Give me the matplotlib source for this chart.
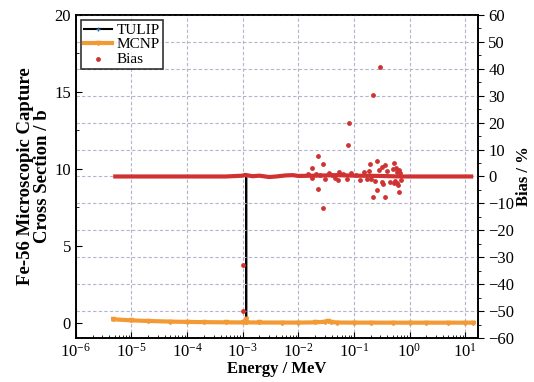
import matplotlib.pyplot as plt
from matplotlib.ticker import MultipleLocator, LogLocator, NullFormatter
import numpy as np

plt.rcParams['font.family'] = ['Liberation Serif', 'DejaVu Serif']
plt.rcParams['mathtext.fontset'] = 'stix'

# --- data ---
energy = [4.7e-6, 1e-5, 2e-5, 5e-5, 1e-4, 2e-4, 5e-4, 1e-3, 1.150e-3, 1.156e-3,
          1.162e-3, 2e-3, 5e-3, 1e-2, 2e-2, 3e-2, 3.4e-2, 3.8e-2, 5e-2, 0.1,
          0.2, 0.5, 1.0, 2.0, 5.0, 10.0, 14.0]
tulip_xs = [0.22, 0.15, 0.11, 0.07, 0.05, 0.035, 0.022, 0.016, 0.02, 9.6,
            0.02, 0.012, 0.008, 0.006, 0.02, 0.06, 0.12, 0.04, 0.01, 0.004,
            0.003, 0.002, 0.001, 0.001, 0.001, 0.001, 0.001]
mcnp_xs = [0.22, 0.15, 0.11, 0.07, 0.05, 0.035, 0.022, 0.016, 0.02, 0.26,
           0.02, 0.012, 0.008, 0.006, 0.02, 0.06, 0.12, 0.04, 0.01, 0.004,
           0.003, 0.002, 0.001, 0.001, 0.001, 0.001, 0.001]

# bias baseline (dense band)
bias_base_e = [4.7e-6, 1e-5, 1e-4, 5e-4, 1e-3, 1.1e-3, 1.5e-3, 2e-3, 3e-3,
               4e-3, 6e-3, 8e-3, 1e-2, 2e-2, 5e-2, 0.1, 0.3, 0.7, 1.0, 5.0, 14.0]
bias_base_v = [0.0, 0.0, 0.0, 0.0, 0.3, 0.6, 0.1, 0.3, -0.2, 0.0, 0.4, 0.5,
               0.2, 0.3, 0.5, 0.3, 0.2, 0.0, 0.0, 0.0, 0.0]

# bias scatter points
bias_e = [1.0e-3, 1.0e-3, 0.0178, 0.023, 0.0275, 0.023, 0.028, 0.051, 0.079,
          0.082, 0.195, 0.22, 0.22, 0.26, 0.26, 0.29, 0.32, 0.32, 0.36, 0.36,
          0.52, 0.52, 0.6, 0.6, 0.66, 0.68, 0.2,
          0.015, 0.018, 0.021, 0.025, 0.03, 0.035, 0.04, 0.045, 0.055, 0.065,
          0.075, 0.09, 0.11, 0.13, 0.15, 0.17, 0.19, 0.24, 0.28, 0.34, 0.4,
          0.45, 0.5, 0.55, 0.58, 0.62, 0.65, 0.7]
bias_v = [-33.0, -50.0, 3.1, 7.6, 4.6, -4.8, -11.8, -1.2, 11.8,
          20.0, 4.7, 30.2, -7.5, 5.6, -5.1, 40.8, 3.4, -2.0, 4.1, -7.5,
          4.9, -2.4, -2.4, 1.5, -5.8, 1.4, -1.0,
          0.8, -0.5, 1.0, 0.6, -0.8, 1.2, 0.5, -0.6, 1.5, 0.9,
          -1.1, 1.3, 0.7, -1.4, 1.8, -0.9, 2.2, -1.6, 2.5, -2.8, 1.9,
          -2.1, 2.6, -1.7, 3.0, -3.2, 2.4, -1.3]

fig = plt.figure(figsize=(5.34, 3.82), dpi=100)
ax = fig.add_axes([0.142, 0.115, 0.753, 0.846])
ax2 = ax.twinx()

# cross sections
l1, = ax.plot(energy, tulip_xs, color='black', lw=1.5, marker='+', ms=3,
              mec='#2f6fae', label='TULIP')
l2, = ax.plot(energy, mcnp_xs, color='#f39a34', lw=3, marker='v', ms=3,
              mec='#f39a34', mfc='#f39a34', label='MCNP')

# bias
ax2.plot(bias_base_e, bias_base_v, color='#d03232', lw=3, solid_capstyle='butt')
l3 = ax2.scatter(bias_e, bias_v, s=6, color='#d03232', label='Bias', zorder=3)

ax.set_xscale('log')
ax.set_xlim(1e-6, 17)
ax.set_ylim(-1, 20)
ax2.set_ylim(-60, 60)

ax.xaxis.set_major_locator(LogLocator(base=10, numticks=10))
ax.xaxis.set_minor_locator(LogLocator(base=10, subs=np.arange(2, 10), numticks=20))
ax.xaxis.set_minor_formatter(NullFormatter())
ax.yaxis.set_major_locator(MultipleLocator(5))
ax.yaxis.set_minor_locator(MultipleLocator(2.5))
ax2.yaxis.set_major_locator(MultipleLocator(10))
ax2.yaxis.set_minor_locator(MultipleLocator(5))

ax.grid(axis='x', which='major', ls=(0, (3, 2)), color='#b4b4cc', lw=0.8)
ax2.grid(axis='y', which='major', ls=(0, (3, 2)), color='#b4b4cc', lw=0.8)

ax.tick_params(which='both', direction='in', labelsize=12)
ax.tick_params(which='major', length=4)
ax.tick_params(which='minor', length=2)
ax2.tick_params(which='both', direction='out', labelsize=12)
ax2.tick_params(which='major', length=4)
ax2.tick_params(which='minor', length=2)

for sp in list(ax.spines.values()) + list(ax2.spines.values()):
    sp.set_linewidth(1.2)

ax.set_xlabel('Energy / MeV', fontsize=12, fontweight='bold', labelpad=0)
ax.set_ylabel('Fe-56 Microscopic Capture\nCross Section / b', fontsize=13.5,
              fontweight='bold', linespacing=1.0, labelpad=2)
ax2.set_ylabel('Bias / %', fontsize=12, fontweight='bold', labelpad=1)

leg = ax2.legend([l1, l2, l3], ['TULIP', 'MCNP', 'Bias'], loc='upper left',
                 fontsize=11, frameon=True, fancybox=False, edgecolor='black',
                 borderpad=0.2, labelspacing=0.05, handlelength=1.8,
                 handletextpad=0.3, borderaxespad=0.35)
leg.get_frame().set_linewidth(1.2)

fig.savefig('out.png', dpi=100)
